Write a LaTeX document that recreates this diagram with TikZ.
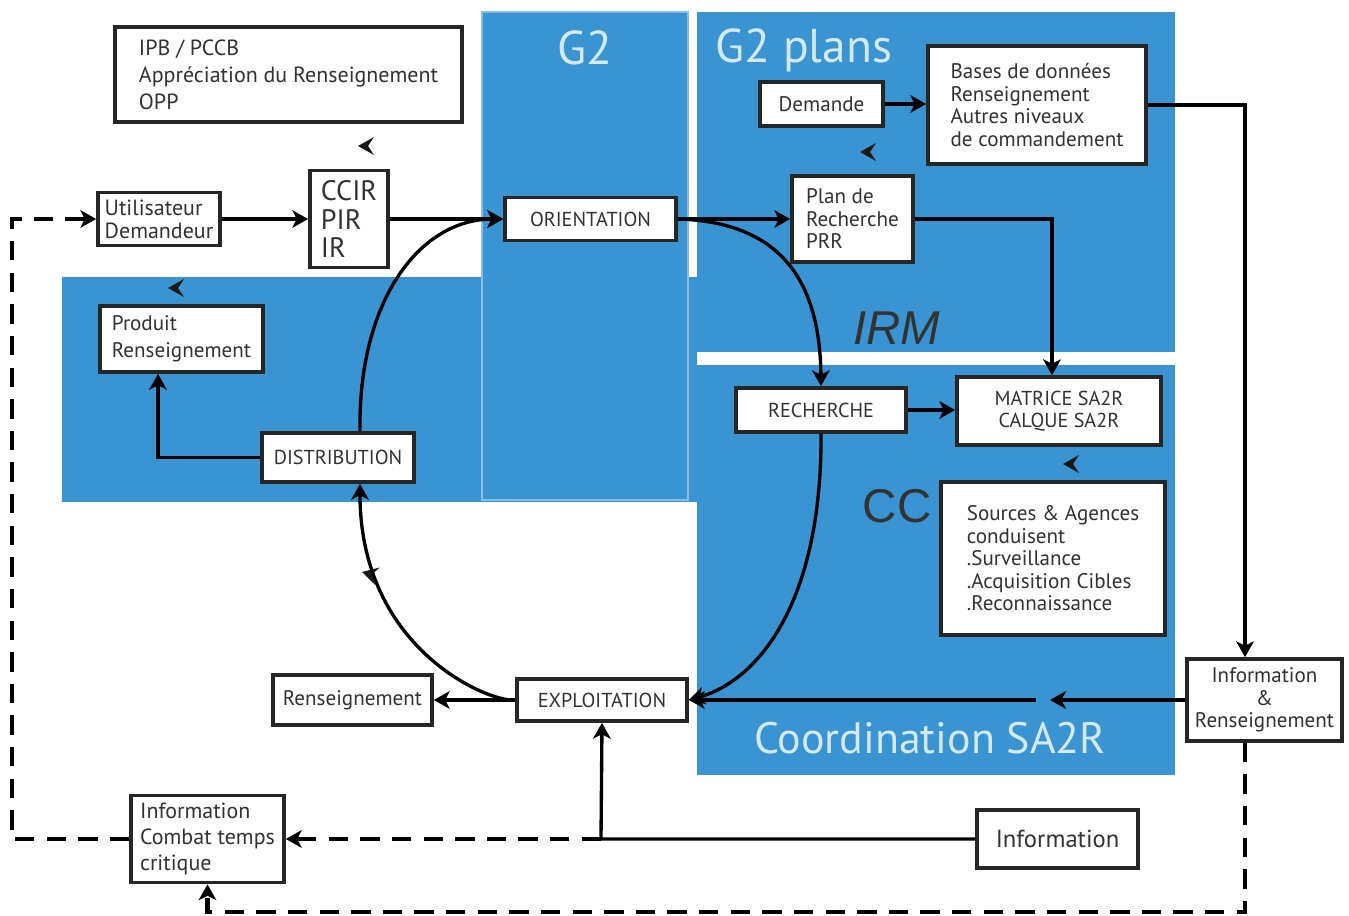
\documentclass[tikz,border=0pt]{standalone}
\usepackage{fontspec}
\setmainfont{PT Sans}
\newfontfamily\arialfont{Liberation Sans}
\usetikzlibrary{arrows.meta}
\definecolor{bleu}{RGB}{57,148,209}
\definecolor{clair}{RGB}{212,233,247}
\definecolor{gristexte}{RGB}{50,50,50}
\begin{document}
\begin{tikzpicture}[x=0.02cm,y=-0.02cm,
	boite/.style={draw=black!85,fill=white,line width=2.1pt,text=gristexte,inner sep=0pt,align=left,font=\fontsize{12}{12.8}\selectfont},
	fleche/.style={line width=1.9pt,-{Stealth[length=9pt,width=10pt,inset=2.5pt]}},
	tirets/.style={line width=2.3pt,dash pattern=on 11pt off 7pt,-{Stealth[length=9pt,width=10pt,inset=2.5pt]}},
	titre/.style={text=clair,font=\fontsize{27}{30}\selectfont},
	pointe/.pic={\fill[black!90](0,0)--(16,-9)--(10,0)--(16,9)--cycle;}]
	\useasboundingbox(0,0)rectangle(1349,916);
	\fill[bleu](62,277)rectangle(697,502);
	\filldraw[fill=bleu,draw=clair!50!bleu,line width=0.8pt](482,12)rectangle(688,500);
	\fill[bleu](697,12)rectangle(1175,352);
	\fill[bleu](697,365)rectangle(1175,775);
	\node[titre](tg2)at(585,48){G2};
	\node[titre](tplans)at(804,50){G2 plans};
	\node[titre,font=\fontsize{25}{28}\selectfont](tcoord)at(930,738){Coordination SA2R};
	\node[text=black!80,font=\arialfont\itshape\fontsize{27}{30}\selectfont](tirm)at(897,328){IRM};
	\node[text=black!80,font=\arialfont\fontsize{27}{30}\selectfont](tcc)at(897,506){CC};
	\node[boite,minimum width=6.94cm,minimum height=1.9cm,font=\fontsize{12.5}{15.3}\selectfont](ipb)at(288.5,74.5){IPB / PCCB\\Appréciation du Renseignement\\OPP};
	\node[boite,minimum width=2.44cm,minimum height=1.06cm,font=\fontsize{12.5}{13}\selectfont](util)at(159,219){Utilisateur\\Demandeur};
	\node[boite,minimum width=1.56cm,minimum height=1.94cm,font=\fontsize{16}{16}\selectfont](ccir)at(349,219){CCIR\\PIR\\IR};
	\node[boite,minimum width=3.42cm,minimum height=0.86cm,font=\fontsize{11.5}{12}\selectfont](orient)at(590.5,219){ORIENTATION};
	\node[boite,minimum width=2.46cm,minimum height=0.88cm](demande)at(821.5,104){Demande};
	\node[boite,minimum width=4.36cm,minimum height=2.36cm](bases)at(1037,105){Bases de données\\Renseignement\\Autres niveaux\\de commandement};
	\node[boite,minimum width=2.42cm,minimum height=1.72cm](plan)at(852.5,219){Plan de\\Recherche\\PRR};
	\node[boite,minimum width=3.26cm,minimum height=1.32cm,font=\fontsize{12}{15.3}\selectfont](produit)at(181.5,339){Produit\\Renseignement};
	\node[boite,minimum width=3.04cm,minimum height=0.98cm,font=\fontsize{11.5}{12}\selectfont](distrib)at(338,457.5){DISTRIBUTION};
	\node[boite,minimum width=3.4cm,minimum height=0.88cm,font=\fontsize{11.5}{12}\selectfont](recherche)at(821,410){RECHERCHE};
	\node[boite,minimum width=4.08cm,minimum height=1.36cm,align=center,font=\fontsize{11.5}{12.5}\selectfont](matrice)at(1059,411){MATRICE SA2R\\CALQUE SA2R};
	\node[boite,minimum width=4.48cm,minimum height=3.06cm](sources)at(1053,558.5){Sources \& Agences\\conduisent\\.Surveillance\\.Acquisition Cibles\\.Reconnaissance};
	\node[boite,minimum width=3.18cm,minimum height=1cm](rens)at(352.5,700){Renseignement};
	\node[boite,minimum width=3.4cm,minimum height=0.84cm,font=\fontsize{11.5}{12}\selectfont](exploit)at(602,700){EXPLOITATION};
	\node[boite,minimum width=3.1cm,minimum height=1.64cm,align=center](infor)at(1264.5,700){Information\\\&\\Renseignement};
	\node[boite,minimum width=3.22cm,minimum height=1.16cm,font=\fontsize{14}{15}\selectfont](info)at(1057.5,839){Information};
	\node[boite,minimum width=3.06cm,minimum height=1.74cm,font=\fontsize{12.5}{15}\selectfont](combat)at(207.5,839){Information\\Combat temps\\critique};
	\pic at(358,146){pointe};
	\pic at(168,288){pointe};
	\pic at(860,152){pointe};
	\pic at(1063,464){pointe};
	\pic[rotate=-15] at(362,572){pointe};
	\coordinate(m1)at(1050,700);
	\coordinate(m2)at(1036,700);
	\coordinate(coin)at(601,839);
	\coordinate(g)at(12,0);
	\coordinate(b)at(0,912);
	\draw[fleche](util)--(ccir);
	\draw[fleche](ccir)--(orient);
	\draw[fleche](orient)--(plan);
	\draw[fleche](demande)--(bases.west|-demande);
	\draw[fleche](bases.east)-|([xshift=-0.39cm]infor.north);
	\draw[fleche](plan.east)-|([xshift=-0.14cm]matrice.north);
	\draw[fleche](recherche)--(matrice.west|-recherche);
	\draw[fleche]([xshift=0.44cm]distrib.north)..controls(358,300)and(420,219)..(orient.west);
	\draw[fleche](orient.east)..controls(780,222)and(820,280)..(recherche.north);
	\draw[fleche](recherche.south)..controls(822,600)and(760,680)..(exploit.east);
	\draw[fleche](exploit.west)..controls(490,703)and(360,650)..([xshift=0.44cm]distrib.south);
	\draw[fleche](infor.west)--(m1);
	\draw[fleche](m2)--(exploit.east);
	\draw[fleche](exploit)--(rens);
	\draw[fleche](distrib.west)-|([xshift=-0.47cm]produit.south);
	\draw[fleche](info.west)--(coin)--(exploit.south);
	\draw[tirets](coin)--(combat.east);
	\draw[tirets](combat.west)--(combat.west-|g)--(util.west-|g)--(util.west);
	\draw[tirets]([xshift=-0.39cm]infor.south)--([xshift=-0.39cm]infor.south|-b)--(combat.south|-b)--(combat.south);
\end{tikzpicture}
\end{document}
